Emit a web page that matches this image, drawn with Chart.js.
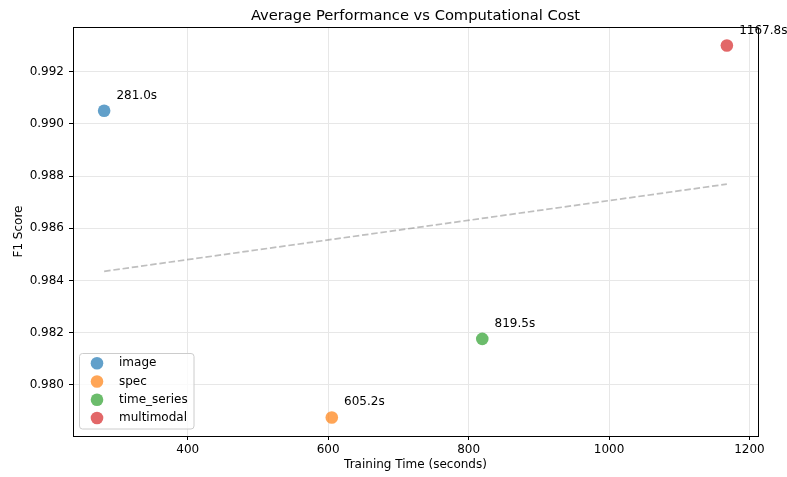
<!DOCTYPE html>
<html>
<head>
<meta charset="utf-8">
<script src="https://cdn.jsdelivr.net/npm/chart.js@4/dist/chart.umd.min.js"></script>
<style>
  html, body { margin: 0; padding: 0; background: #ffffff; }
  #wrap { width: 787px; height: 477px; position: relative; }
</style>
</head>
<body>
<div id="wrap"><canvas id="c" width="787" height="477"></canvas></div>
<script>
// ---- data ----
const categories = ['image', 'spec', 'time_series', 'multimodal'];
const trainingTime = [281.0, 605.2, 819.5, 1167.8];
const f1Score = [0.9905, 0.97875, 0.98176, 0.9930];
const seriesColors = ['rgba(31,119,180,0.7)', 'rgba(255,127,14,0.7)', 'rgba(44,160,44,0.7)', 'rgba(214,39,40,0.7)'];
const trendX = [281.0, 1167.8];
const trendY = [0.98435, 0.98769];
const xTicks = [400, 600, 800, 1000, 1200];
const yTicks = [0.980, 0.982, 0.984, 0.986, 0.988, 0.990, 0.992];
const chartTitle = 'Average Performance vs Computational Cost';
const xTitle = 'Training Time (seconds)';
const yTitle = 'F1 Score';

const FONT = "'DejaVu Sans', sans-serif";

const datasets = categories.map((name, i) => ({
  type: 'scatter',
  label: name,
  data: [{ x: trainingTime[i], y: f1Score[i] }],
  backgroundColor: seriesColors[i],
  borderWidth: 0,
  pointRadius: 6.3,
  pointHoverRadius: 6.3,
  order: 1
}));
datasets.push({
  type: 'line',
  label: 'trend',
  data: trendX.map((x, i) => ({ x: x, y: trendY[i] })),
  borderColor: 'rgba(128,128,128,0.5)',
  borderWidth: 1.7,
  borderDash: [6.5, 2.8],
  pointRadius: 0,
  fill: false,
  order: 2
});

const xMin = 236.66, xMax = 1212.14, yMin = 0.97804, yMax = 0.99371;

const framePlugin = {
  id: 'frame',
  afterDatasetsDraw(chart) {
    const { ctx, chartArea: a } = chart;
    ctx.save();
    // top and right spines (left/bottom drawn by the axes)
    const L = Math.round(a.left) + 0.5, R = Math.round(a.right) + 0.5;
    const T = Math.round(a.top) + 0.5, B = Math.round(a.bottom) + 0.5;
    ctx.strokeStyle = '#000';
    ctx.lineWidth = 1;
    ctx.beginPath();
    ctx.moveTo(L, T); ctx.lineTo(R, T); ctx.lineTo(R, B);
    ctx.stroke();
    // title
    ctx.fillStyle = '#000';
    ctx.font = '14.7px ' + FONT;
    ctx.textAlign = 'center';
    ctx.textBaseline = 'alphabetic';
    ctx.fillText(chartTitle, (a.left + a.right) / 2, 20);
    // annotations
    ctx.font = '12px ' + FONT;
    ctx.textAlign = 'left';
    const xs = chart.scales.x, ys = chart.scales.y;
    categories.forEach((name, i) => {
      const px = xs.getPixelForValue(trainingTime[i]);
      const py = ys.getPixelForValue(f1Score[i]);
      ctx.fillText(trainingTime[i].toFixed(1) + 's', px + 12.3, py - 12);
    });
    // legend
    const lx = 79.5, ly = 353.5, lw = 114.5, lh = 75.5;
    ctx.beginPath();
    ctx.roundRect(lx, ly, lw, lh, 3);
    ctx.fillStyle = 'rgba(255,255,255,0.8)';
    ctx.fill();
    ctx.strokeStyle = '#cccccc';
    ctx.lineWidth = 1;
    ctx.stroke();
    ctx.textBaseline = 'middle';
    categories.forEach((name, i) => {
      const cy = 363.3 + i * 18.25;
      ctx.beginPath();
      ctx.arc(97, cy, 6.3, 0, Math.PI * 2);
      ctx.fillStyle = seriesColors[i];
      ctx.fill();
      ctx.fillStyle = '#000';
      ctx.fillText(name, 119, cy);
    });
    ctx.restore();
  }
};

new Chart(document.getElementById('c'), {
  type: 'scatter',
  data: { datasets: datasets },
  options: {
    responsive: false,
    animation: false,
    events: [],
    layout: { padding: { top: 27, right: 29, left: 0, bottom: 0 } },
    plugins: { legend: { display: false }, title: { display: false }, tooltip: { enabled: false } },
    scales: {
      x: {
        type: 'linear',
        min: xMin, max: xMax,
        afterBuildTicks: (s) => { s.ticks = xTicks.map(v => ({ value: v })); },
        afterFit: (s) => { s.height = 41; },
        grid: { color: '#e7e7e7', lineWidth: 1, tickColor: '#000', tickLength: 4, drawTicks: true },
        border: { display: true, color: '#000', width: 1 },
        ticks: { color: '#000', font: { family: FONT, size: 12 }, padding: 3, maxRotation: 0, callback: (v) => String(v) },
        title: { display: true, text: xTitle, color: '#000', font: { family: FONT, size: 12 }, padding: { top: 0, bottom: 5 } }
      },
      y: {
        type: 'linear',
        min: yMin, max: yMax,
        afterBuildTicks: (s) => { s.ticks = yTicks.map(v => ({ value: v })); },
        afterFit: (s) => { s.width = 73; },
        grid: { color: '#e7e7e7', lineWidth: 1, tickColor: '#000', tickLength: 4, drawTicks: true },
        border: { display: true, color: '#000', width: 1 },
        ticks: { color: '#000', font: { family: FONT, size: 12 }, padding: 5, callback: (v) => Number(v).toFixed(3) },
        title: { display: true, text: yTitle, color: '#000', font: { family: FONT, size: 12 }, padding: { top: 12, bottom: 0 } }
      }
    }
  },
  plugins: [framePlugin]
});
</script>
</body>
</html>
